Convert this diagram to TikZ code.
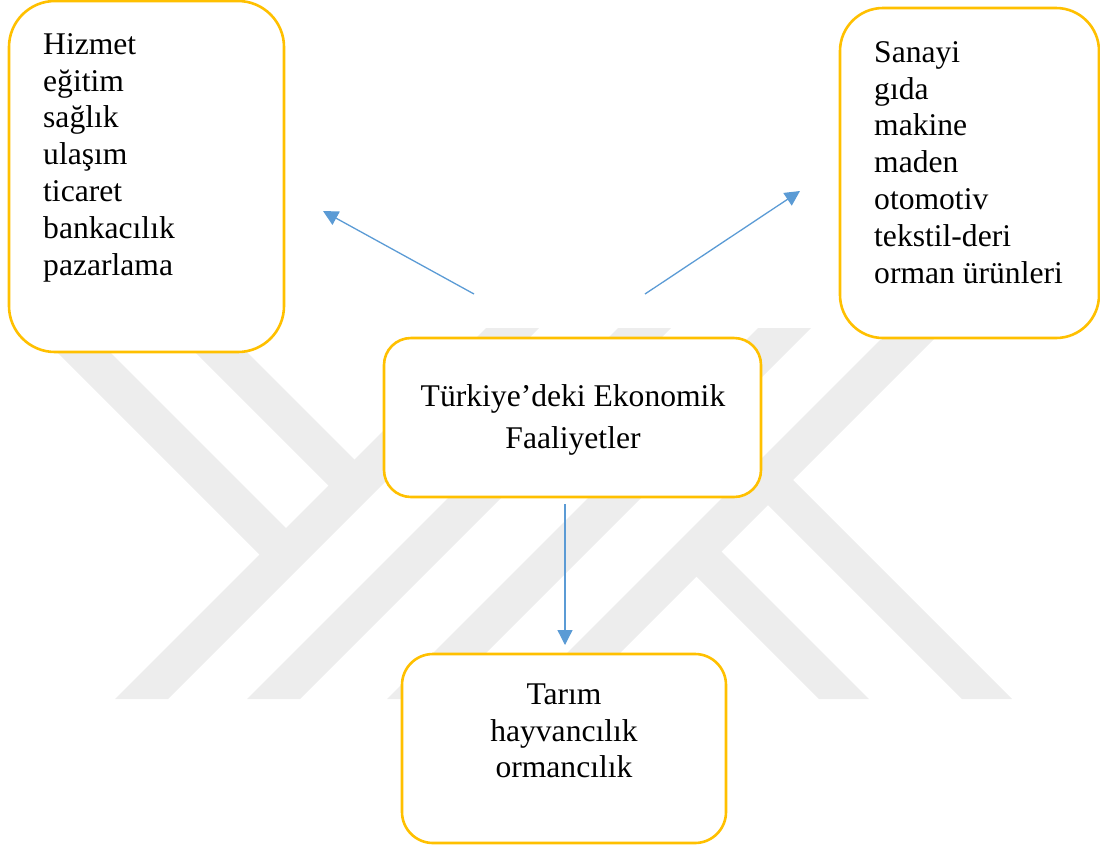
\documentclass[tikz,border=0pt]{standalone}
\usepackage{fontspec}
\setmainfont{Liberation Serif}
\usetikzlibrary{arrows.meta}
\definecolor{boxline}{HTML}{FFC000}
\definecolor{arrowblue}{HTML}{5B9BD5}
\definecolor{wmgray}{HTML}{EDEDED}

\begin{document}
\begin{tikzpicture}[x=1pt,y=-1pt]
	\tikzstyle{box} = [draw=boxline, line width=2.6pt, fill=white, outer sep=0pt, inner sep=0pt]
	\tikzstyle{txt} = [inner sep=0pt, font=\fontsize{31.6}{36.8}\selectfont]
	\tikzstyle{conn} = [draw=arrowblue, line width=1.3pt, -{Triangle[length=15pt,width=15pt]}]
	\useasboundingbox (0,0) rectangle (1100,847);
	\fill[wmgray] (115,699) -- (168,699) -- (539,328) -- (486,328) -- cycle;
	\fill[wmgray] (247,699) -- (300,699) -- (671,328) -- (618,328) -- cycle;
	\fill[wmgray] (387,699) -- (440,699) -- (811,328) -- (758,328) -- cycle;
	\fill[wmgray] (521,699) -- (574,699) -- (945,328) -- (892,328) -- cycle;
	\fill[wmgray] (33,328) -- (86,328) -- (299,541) -- (272.5,567.5) -- cycle;
	\fill[wmgray] (171,328) -- (223,328) -- (367.5,472.5) -- (341.5,498.5) -- cycle;
	\fill[wmgray] (685,565) -- (710,540) -- (869,699) -- (819,699) -- cycle;
	\fill[wmgray] (756.5,493.5) -- (781.5,468.5) -- (1012,699) -- (962,699) -- cycle;
	\node[box, rounded corners=46pt, minimum width=275pt, minimum height=351pt] (hizmet) at (146.5,176.5) {};
	\node[box, rounded corners=43pt, minimum width=259pt, minimum height=330pt] (sanayi) at (969.5,173) {};
	\node[box, rounded corners=27pt, minimum width=377pt, minimum height=159pt] (merkez) at (572.5,417.5) {};
	\node[box, rounded corners=31pt, minimum width=324pt, minimum height=189pt] (tarim) at (564,748.5) {};
	\node[txt, anchor=north west, align=left] (hizmet-text) at (43,30)
		{\rule{0pt}{24pt}Hizmet\\eğitim\\sağlık\\ulaşım\\ticaret\\bankacılık\\pazarlama};
	\node[txt, anchor=north west, align=left] (sanayi-text) at (874,38)
		{\rule{0pt}{24pt}Sanayi\\gıda\\makine\\maden\\otomotiv\\tekstil-deri\\orman ürünleri};
	\node[txt, anchor=north, align=center, font=\fontsize{31.6}{42}\selectfont] (merkez-text) at (573,382)
		{\rule{0pt}{24pt}Türkiye’deki Ekonomik\\Faaliyetler};
	\node[txt, anchor=north, align=center] (tarim-text) at (564,680)
		{\rule{0pt}{24pt}Tarım\\hayvancılık\\ormancılık};
	\coordinate (hizmet-from) at (474,294);
	\coordinate (hizmet-to) at (323,211);
	\coordinate (sanayi-from) at (645,294);
	\coordinate (sanayi-to) at (800,191);
	\coordinate (tarim-from) at (565,504);
	\coordinate (tarim-to) at (565,645);
	\draw[conn] (hizmet-from) -- (hizmet-to);
	\draw[conn] (sanayi-from) -- (sanayi-to);
	\draw[conn] (tarim-from) -- (tarim-to);
\end{tikzpicture}
\end{document}
